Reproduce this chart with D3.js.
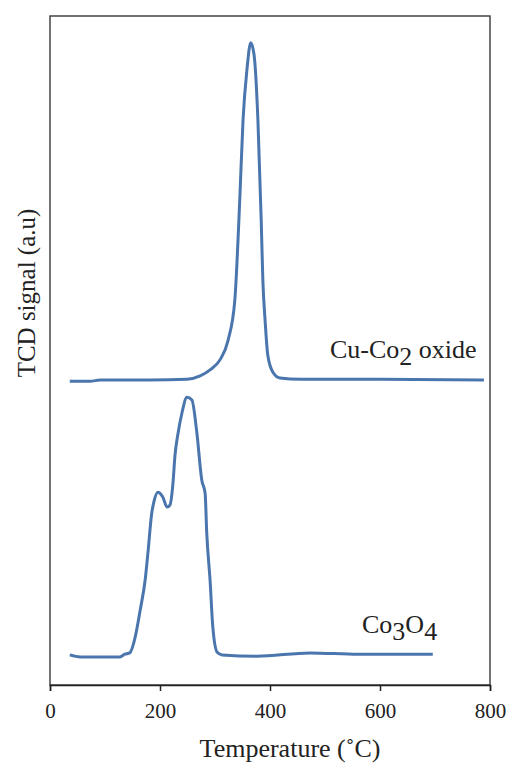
<!DOCTYPE html>
<html><head><meta charset="utf-8">
<script src="https://cdn.jsdelivr.net/npm/d3@7/dist/d3.min.js"></script>
<style>body{margin:0;background:#fff}svg{display:block}text{font-family:"Liberation Serif","Times New Roman",serif;fill:#222}</style>
</head><body><div id="chart"></div>
<script>
const xTicks = [0, 200, 400, 600, 800];
// Cu-Co2 oxide TPR profile: temperature (°C), signal (a.u.)
const cuCoTemp   = [36, 73, 91, 182, 249, 273, 291, 309, 324, 336, 345, 351, 358, 365, 371, 378, 384, 387, 391, 396, 405, 418, 455, 600, 789];
const cuCoSignal = [45.4, 45.4, 45.6, 45.6, 45.7, 46.2, 47.1, 48.6, 51.6, 57.5, 72.5, 84.5, 91.9, 96.0, 94.2, 84.5, 69.5, 60.5, 54.6, 49.3, 46.8, 45.9, 45.7, 45.7, 45.6];
// Co3O4 TPR profile
const co3o4Temp   = [36, 55, 127, 136, 145, 155, 164, 173, 178, 185, 189, 196, 205, 213, 218, 224, 227, 233, 240, 249, 258, 267, 276, 282, 285, 291, 296, 304, 313, 376, 473, 560, 696];
const co3o4Signal = [4.5, 4.2, 4.2, 4.6, 4.8, 7.2, 11.2, 15.7, 19.7, 25.7, 27.4, 28.8, 28.1, 26.6, 26.9, 30.6, 34.1, 37.7, 40.7, 43.0, 42.6, 37.7, 30.6, 28.7, 22.7, 15.7, 8.7, 4.9, 4.5, 4.3, 4.8, 4.6, 4.6];

const W = 512, H = 765;
const m = {left: 50, right: 22, top: 16, bottom: 80};
const svg = d3.select("#chart").append("svg").attr("width", W).attr("height", H);
const x = d3.scaleLinear().domain([0, 800]).range([m.left, W - m.right]);
const y = d3.scaleLinear().domain([0, 100]).range([H - m.bottom, m.top]);

// frame
svg.append("rect").attr("x", x(0)).attr("y", y(100)).attr("width", x(800) - x(0)).attr("height", y(0) - y(100))
  .attr("fill", "none").attr("stroke", "#444").attr("stroke-width", 1.5);

const xAxis = svg.append("g").attr("transform", `translate(0,${y(0)})`)
  .call(d3.axisBottom(x).tickValues(xTicks).tickSize(6).tickPadding(12).tickFormat(d3.format("d")));
xAxis.select(".domain").attr("stroke", "#222").attr("stroke-width", 1.5);
xAxis.selectAll(".tick line").attr("stroke", "#222").attr("stroke-width", 1.5);
xAxis.selectAll(".tick text").style("font-family", '"Liberation Serif",serif').style("font-size", "21px").attr("fill", "#222");

const line = d3.line().x(d => x(d[0])).y(d => y(d[1])).curve(d3.curveMonotoneX);
const series = [d3.zip(cuCoTemp, cuCoSignal), d3.zip(co3o4Temp, co3o4Signal)];
svg.selectAll("path.s").data(series).join("path").attr("class", "s")
  .attr("d", line).attr("fill", "none").attr("stroke", "#4a76ad").attr("stroke-width", 3).attr("stroke-linejoin", "round");

// labels
const l1 = svg.append("text").attr("x", 330).attr("y", 358).style("font-size", "26px");
l1.append("tspan").text("Cu-Co");
l1.append("tspan").text("2").attr("dy", 7);
l1.append("tspan").text(" oxide").attr("dy", -7);

const l2 = svg.append("text").attr("x", 362).attr("y", 633).style("font-size", "26px");
l2.append("tspan").text("Co");
l2.append("tspan").text("3").attr("dy", 7);
l2.append("tspan").text("O").attr("dy", -7);
l2.append("tspan").text("4").attr("dy", 7);

svg.append("text").attr("x", 290).attr("y", 757).attr("text-anchor", "middle").style("font-size", "26px").text("Temperature (˚C)");
svg.append("text").attr("transform", "translate(35,293) rotate(-90)").attr("text-anchor", "middle").style("font-size", "25px").text("TCD signal (a.u)");
</script></body></html>
